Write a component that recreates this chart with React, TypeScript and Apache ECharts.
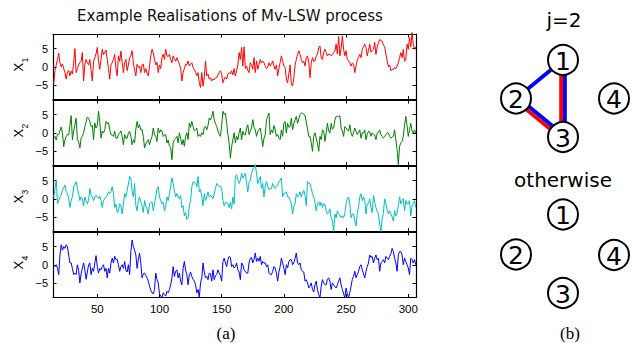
import React, { useEffect, useRef } from 'react';
import * as echarts from 'echarts';

// time index of the first sample shown
const T_START = 15;

// X1 (red)
const x1 = [
  -4.5, -1, 0.5, 2, 3.7, 1, 0, 0.8, -0.5, -1.6,
  -3.4, -1.5, -1, -2.5, -1.2, -2, 1, 5, -1.6, -0.5,
  0.5, 1.1, 1.5, 3.9, -3.9, 0.7, 2, 1.2, 0.5, 2,
  -1, -3.9, 1.5, 2.5, 3.5, 5.3, 1.5, -0.7, 2, 4.8,
  3.3, 4, 4.6, 2, -0.5, -3.4, 0.5, 1.1, 2, 3.4,
  -0.5, -2.5, 3, 1.5, 4.3, 1.2, -1.6, 1.1, 2, -1.1,
  0.5, 2.5, 3, 4.4, 1.1, -1, -2.5, 0.7, -0.2, 0.2,
  -1.6, 0.5, 0.7, -1.6, -0.5, -1.8, -2.5, 0.2, 3, 4.8,
  3.8, 2, 0.5, 1.2, -1.6, 0.5, -0.5, 2.5, 3.5, 2,
  4.8, 3, 2.8, 3.4, 2, 1.1, 3, 2.2, 1.5, 2.5,
  1.6, 0.7, -0.5, -3.9, -1.6, -0.5, 0.7, 0.5, 1.6, 0.2,
  0.7, 1.1, -0.2, -0.8, -1.5, -2.5, -1.6, -4.5, -5.7, -1.6,
  -5.3, -3, 1.6, -2.5, -2, -3.4, -3, -3.9, -3.4, -3.6,
  -3, -3, -2.2, -1.6, -1.1, -2, -4.4, -3.4, -2.8, -3.4,
  -2, -1.6, -2, -1.1, -2.2, -0.5, -2.5, -1, 0.5, 3.9,
  2, 5.3, 0.2, 5.5, -0.5, 0.2, -1, -1.6, 1.1, 0.5,
  -0.7, 2.5, -1.6, 1.6, -0.7, 0.7, 2, 1, 1.6, 1.1,
  0.2, -0.5, -0.2, 1.1, 0.2, 0.7, 1.6, 0.2, -0.7, 0.5,
  -2.5, -0.5, 1.1, 3, 1.5, 0.2, -0.2, -3.4, -4.4, -2,
  0.5, -4.8, -5.3, -3, 0.5, 2, 3.4, 4.4, 3.4, 2,
  1.1, 1.5, 0.2, 2.5, 3, 1.2, -3, 1.1, 2.5, 1.5,
  1.6, 3, 3.4, 5.3, 5.7, 2.5, 2, 4, 4.8, 3.9,
  3, 3.5, 3.4, 3, 3.4, 3.9, 4.3, 6.2, 3.5, 8.3,
  3, 5, 8.5, 4.8, 3, 4.4, 2, 1.6, 1.1, 0.2,
  1, 0.7, -1.6, 0.2, 1.8, 2.5, 3.4, 2.5, 4.8, 5.5,
  6.2, 5.3, 3, 4.5, 6.2, 4, 4.5, 4.8, 6.7, 3.4,
  5.5, 6.5, 7.5, 7.2, 7, 6, 5.5, 3.5, 1.6, 0,
  0.5, -1.1, -0.7, -0.8, -0.2, -0.5, 0.2, 1.1, 2.5, 3.9,
  2.5, 4.8, 1.5, 2, 6.2, 4.8, 8, 5.5, 9.4, 6.2,
  4.8, 5.5,
];

// X2 (green)
const x2 = [
  -1.5, -1, -2, -0.5, -0.5, 0.5, 1.6, 0, -3.8, -2,
  -1, -0.5, -0.6, 2, 4.7, -1.9, 0.5, 2.2, 4, -1.9,
  -2.5, -4.2, -1.5, -1, 0, 1.7, 3, 4.3, 4, 3.1,
  1.7, 2, -1.9, 2.7, 1.3, 2, 5.9, 3, -1.5, 0.5,
  -0.1, 0.8, 3.1, 2.5, 2.8, 0.8, -0.5, -0.6, -1, 0.4,
  -1.5, -1.5, -0.5, -0.1, 0.5, -1, -3.3, -0.5, -1.5, -1.5,
  -0.1, 0.4, -1, -3.3, -1.9, -2.8, 1, 3.1, 1.3, 2.2,
  0.8, 0.9, -1, -4.2, -3, -2.4, -1.9, -3.3, -2, -1,
  1.3, -0.5, -1, -2.4, 1.3, 0, 0.8, 0.5, -1, -0.6,
  -0.5, -2.8, -2, -3.7, -4, -7.4, -2.8, -1.9, -1.5, -1,
  -2.8, 0, -1.5, -3.3, -1.9, -3.7, -1, 0, -1.9, 2.7,
  1.5, 3.1, 1.7, 0.5, 0.8, 1.3, -1, -0.5, -1, 0,
  -0.5, 1.5, 1.7, 0.8, 2, 4, 3.5, 4.5, 5.9, 3.5,
  2.6, 1.7, 0.5, -0.5, -1, 2, 5.9, 5, 5.4, 2.6,
  -0.5, -2.8, -7, -3.8, -1.9, 0, -2.8, -1, -1.9, 0,
  1.3, -1.9, 0.4, -0.5, -0.6, 1.3, 2.2, -0.5, 0.5, 1.3,
  3.6, 1.5, 0.8, -1, 0.4, 0.8, 1.3, -1, -3.8, -1.5,
  -0.5, 3.5, 4.5, 5.4, -0.5, 0.8, 0, 2, 0.8, -1,
  -0.5, -1.5, -1.9, 0.8, -1, 2.5, 3.1, -0.1, 2.6, 1.5,
  1.7, 4, 0.8, 2.5, 3.5, 4.5, 2.6, 3.8, 5, 5.4,
  5.4, 5, 4.8, 3, 1, -1, -1, -2.8, -5.1, -1,
  0, -1.5, -3, -5.1, -1, -1.9, 0.8, 0.5, -2.4, 0,
  2.6, 0.5, -0.1, 2.6, 1, 1.3, 3.5, 4.5, 4.5, 4.5,
  4.7, 1.3, 0.5, -1, 1.7, 1.3, 0.8, 0.4, 2.2, -0.1,
  -1, 0, 1.3, 0.4, -0.5, 0.2, 0.8, -1.5, 0, -0.1,
  0.8, -1.9, -0.5, 0.4, 0.3, -1, 0, -0.5, -0.6, -1.9,
  -0.1, 0, 0.8, -0.5, -1, -1.5, -1, -0.5, 0, -0.1,
  -1, -1.5, -1.2, -1, 0.8, -2, -4.6, -8.8, -3.7, -2.8,
  -2.4, -1, 2.2, 4.5, 2, -1, 0.8, 2.6, 0.5, -0.1,
  0.8, -0.1,
];

// X3 (cyan)
const x3 = [
  0.5, 2.5, 5.2, -1.4, -0.5, 0.5, 1, 2.3, 3, 3.8,
  2, 1.4, 0, -2.4, -0.5, 0.5, 3.3, 4, 4.7, 2.8,
  1.4, -0.5, 0.5, 0, -1.9, 0.5, -0.5, -1.4, -0.5, 2.8,
  1, 0.5, -0.5, 0.5, 1, 0.5, 0, 0.7, -0.5, -2.4,
  -0.5, 0, 0.5, 1, 1.9, 1.4, 2, 3.3, 1.4, -2.4,
  -1.5, -3.8, -3.3, -1.4, -2, -4.2, -1.4, 1.4, 0.5, 2.3,
  4, 6.1, 5.7, 2, 0.5, 4.2, -1.9, -3.3, -0.5, 0.5,
  -1, -1.9, -3.8, -0.5, -2, -2.8, -4.2, -1.4, -1, -0.9,
  -3.3, -1.4, 0.5, 2.8, 3.3, 0.5, -0.5, -1.4, -1, -3.3,
  -2, 0.5, -0.5, 1.4, 3.5, 5.7, 4.2, 2.2, 0.5, 1.4,
  0.5, 0, 0.9, -2.4, -1.9, -4.7, -3.8, -5.7, -5.2, -2,
  -0.5, 3.3, 4.7, 4.5, 4.2, 3.3, 6.1, 1.9, 2.5, 0.5,
  -1.9, 1.4, -0.5, 0.5, 1.9, 0.5, 1, 0.5, 0, 1.4,
  2.8, 4.2, 3.8, 3.3, 3.5, 2.8, -0.5, -1.9, -1, -1,
  -1.5, -2.4, -1, -2.8, 0.5, -1.4, 6.1, 6.6, 5.2, 4.2,
  5, 7, 5.7, 6.3, 7, 4.2, 1.9, 4.5, 5, 7,
  8, 8.5, 9.4, 7, 4.2, 5, 6.1, 2.8, 4.2, 0.5,
  3.5, 4.7, 3.3, 2.5, 2.8, 2.8, 4.2, 3.3, 2.8, 3.3,
  3.8, 4.7, 5, 5.7, 0.5, 1.4, 1.4, 1.9, 0.5, 0.5,
  -0.5, -1.4, -4.2, -2, -1.4, 1.4, 0.5, 1, 1.9, 0.5,
  1.5, 2.3, 0.9, -1.9, 4.7, 4.2, 4.2, 2.8, 1.4, 0.5,
  -1, -3.3, -1.4, -0.8, -1.9, -1, -2.4, -1.4, -1.5, -3.3,
  -4.2, -3.8, -2.8, -5.2, -6, -9, -4.2, -5.2, -3.3, -4.2,
  -4.5, -5.2, -4.7, -5.2, -4, -1.4, 0, 0.5, -1.4, -5.2,
  -4.2, -4.2, -6.1, -7.5, -4, -2.4, 0.5, 1.4, -0.5, 0.5,
  -0.5, -4.2, -1.4, -1.4, 0, -2.4, -3.8, 0.9, -1, -2.4,
  -3.5, -4.2, -7, -9, -5.5, -3.8, 0, -1.4, -3, -4.2,
  -3.3, -4.2, -5, -6.1, -3.3, -4.7, -4, -1.9, 0.5, -1.4,
  -0.5, 0, -3.3, -0.5, -1.4, -1.4, -0.5, -4.7, -2, -1.4,
  -0.5, -2.4,
];

// X4 (blue)
const x4 = [
  0, -0.5, 0, -1, -2.7, 2.7, 5.5, 4, 5, 4.5,
  5.5, 5, 2.7, 0.5, 0.5, -1, -2.7, -2.3, -2.7, 0,
  -1.5, -5, -2.5, -1, 0.5, -1.4, -4, -2, 0, 0.5,
  -2.7, -1, -1.8, 0.5, 2.5, -0.5, -2.3, -1, -1.4, -0.5,
  0, -1.8, -1, -3.6, -1, -2.3, 0.5, 1.8, 0.5, 2.3,
  1.4, 1.5, 0, -1.8, -0.5, 0, -1, 0.9, -1.5, -2,
  0, -2.7, 3.6, 6.8, 5, 4, 2.7, -1, 1.5, 3.2,
  0.5, -3.6, -2.5, -2.3, -3, -3.6, -4.5, -5.9, -7, -7.7,
  -8, -6.8, -2.3, -4, -5, -8, -8.6, -9, -7.7, -8.2,
  -8.6, -7.3, -7.7, -6.8, -5.5, -3.6, -0.5, -3.2, -1.8, -1.4,
  -3.6, -2.3, -4.5, -5.5, -1, 0.9, -1.5, -2.7, -5.5, -2.7,
  -2, -3.2, -4, -4.5, -5.5, -7.7, -6.8, -9, -5, -3.6,
  0.5, -2, -3.6, -3.2, -4.1, -2.3, -2.5, -4.5, -1.4, -4.1,
  -3, -2.7, -1.4, -2.3, -3, -4.5, 0.9, 1.8, 0.5, -0.5,
  1.4, 2.3, 2, -0.5, 0, -0.9, -0.5, 0.5, -1.4, -2,
  -4.1, 0.5, 0, -1.4, -1.8, -2.3, -2.3, 0.5, 1.8, 2,
  0.5, 1.5, 3.2, 0.9, 1.8, 1, 2.3, 0, 0.9, 0.5,
  0.5, -0.5, 0, -2.3, -2.7, -2.7, -1.8, -0.5, -0.9, -2.3,
  -4.5, -2, -0.5, 1.8, 0.5, -1, -2.7, 0, -0.9, 0.9,
  1.4, 1.4, 0, 0.5, 1.8, 3.2, 0.5, 0, 0.5, -1.4,
  -1.8, -2, -4.5, -4.1, -5, -6.4, -5.9, -5, -6.8, -7.5,
  -5.5, -4.5, -7, -8.2, -9, -5.9, -4.1, -5, -5.5, -5.5,
  -4, -3.6, -4.5, -6.8, -5, -5.5, -6, -6.4, -5.5, -4.5,
  -3.6, -5.5, -6.8, -8, -9, -6.4, -8, -9, -7.7, -5.9,
  -4, -3.2, -1.8, -3.6, -2.7, -1.8, -0.5, 0, -1.4, -2.5,
  -3.6, -1.8, -0.5, 0.5, 2.7, 2, 2.3, 0.5, 1.8, 2.7,
  1.4, 1.8, -1.8, 0.5, 0.9, 1.4, 0.5, 2.3, 1.8, 1.4,
  2.3, 3, 4.5, 3.6, 1.8, 0.5, -1.8, 2.7, 3.6, 3.6,
  2.7, 0, 1.8, 0.9, 0, -0.9, -2.7, 1.8, 1.4, 0.5,
  1.4, 0,
];

const xTicks = [50, 100, 150, 200, 250, 300];
const yTicks = [-5, 0, 5];
const subscripts = ['1', '2', '3', '4'];
const lineColors = ['#ff0000', '#008000', '#00bfbf', '#0000ff'];

const titleText = 'Example Realisations of Mv-LSW process';
const captionA = '(a)';
const captionB = '(b)';
const headJ2 = 'j=2';
const headOther = 'otherwise';
const nodeNames = ['1', '2', '3', '4'];
// edges at j=2: [from, to, colours]
const edgesJ2: [number, number, string[]][] = [
  [0, 1, ['#0000ff']],
  [1, 2, ['#ff0000', '#0000ff']],
  [0, 2, ['#ff0000', '#0000ff']],
];

export default function App() {
  const ref = useRef<HTMLDivElement>(null);
  useEffect(() => {
    const chart = echarts.init(ref.current!, null, { renderer: 'svg' });
    const L = 53, GW = 363, GH = 65.5;
    const tops = [34, 100, 166, 232];
    const XMIN = 14.4, XMAX = 306.2;
    const all = [x1, x2, x3, x4];
    const grid: any[] = [], xAxis: any[] = [], yAxis: any[] = [], series: any[] = [];
    const axisLine = { show: true, onZero: false, lineStyle: { color: '#000', width: 1.2 } };
    const tickFont = { color: '#000', fontFamily: 'Liberation Sans', fontSize: 11 };
    all.forEach((arr, i) => {
      grid.push({ left: L, top: tops[i], width: GW, height: GH });
      ['bottom', 'top'].forEach((pos, k) => {
        xAxis.push({
          type: 'value', gridIndex: i, position: pos, min: XMIN, max: XMAX,
          axisLine, splitLine: { show: false },
          axisTick: { show: true, inside: true, length: 3.5, customValues: xTicks, lineStyle: { color: '#000', width: 1 } },
          axisLabel: { show: k === 0 && i === 3, customValues: xTicks, margin: 5, ...tickFont, fontSize: 11.5 },
        });
      });
      ['left', 'right'].forEach((pos, k) => {
        yAxis.push({
          type: 'value', gridIndex: i, position: pos, min: -9, max: 9,
          axisLine, splitLine: { show: false },
          axisTick: { show: true, inside: true, length: 3.5, customValues: yTicks, lineStyle: { color: '#000', width: 1 } },
          axisLabel: {
            show: k === 0, customValues: yTicks, margin: 5, ...tickFont,
            formatter: (v: number) => (v < 0 ? '\u2212' + Math.abs(v) : String(v)),
          },
        });
      });
      series.push({
        type: 'line', xAxisIndex: 2 * i, yAxisIndex: 2 * i,
        data: arr.map((v, k) => [T_START + k, v]),
        showSymbol: false, symbol: 'none', clip: false, silent: true,
        lineStyle: { color: lineColors[i], width: 1 }, itemStyle: { color: lineColors[i] },
      });
    });

    const graphic: any[] = [];
    graphic.push({
      type: 'text', x: 230, y: 16,
      style: { text: titleText, fontFamily: 'DejaVu Sans', fontSize: 15, fill: '#111', align: 'center', verticalAlign: 'middle' },
    });
    tops.forEach((t, i) => {
      const pc = t + GH / 2;
      graphic.push({
        type: 'text', x: 18, y: pc + 0.5, rotation: Math.PI / 2,
        style: { text: 'X', fontFamily: 'Liberation Sans', fontSize: 13, fill: '#000', align: 'center', verticalAlign: 'middle' },
      });
      graphic.push({
        type: 'text', x: 24.5, y: pc - 6.5, rotation: Math.PI / 2,
        style: { text: subscripts[i], fontFamily: 'Liberation Sans', fontSize: 8.5, fill: '#000', align: 'center', verticalAlign: 'middle' },
      });
    });
    graphic.push({
      type: 'text', x: 226, y: 333,
      style: { text: captionA, fontFamily: 'Liberation Serif', fontSize: 17, fill: '#000', align: 'center', verticalAlign: 'middle' },
    });
    graphic.push({
      type: 'text', x: 570, y: 333,
      style: { text: captionB, fontFamily: 'Liberation Serif', fontSize: 17, fill: '#000', align: 'center', verticalAlign: 'middle' },
    });

    const headFont = { fontFamily: 'DejaVu Sans', fontSize: 20, fill: '#000', align: 'center', verticalAlign: 'middle' };
    graphic.push({ type: 'text', x: 564, y: 20, style: { text: headJ2, ...headFont } });
    graphic.push({ type: 'text', x: 563, y: 180, style: { text: headOther, ...headFont } });

    const posJ2 = [[563, 60], [516, 98.5], [563, 137], [614, 98.5]];
    const posOther = [[563, 214.5], [516, 254.5], [563, 293], [614, 255]];

    edgesJ2.forEach(([a, b, cols]) => {
      const [ax, ay] = posJ2[a];
      const [bx, by] = posJ2[b];
      const len = Math.hypot(bx - ax, by - ay);
      const dx = (bx - ax) / len, dy = (by - ay) / len;
      const nx = -dy, ny = dx;
      cols.forEach((c, k) => {
        const off = cols.length === 1 ? 0 : (k === 0 ? 1.9 : -1.9);
        graphic.push({
          type: 'line', z: 10,
          shape: { x1: ax + nx * off, y1: ay + ny * off, x2: bx + nx * off, y2: by + ny * off },
          style: { stroke: c, lineWidth: 3.8 },
        });
      });
    });

    [posJ2, posOther].forEach((ps) => {
      ps.forEach(([cx, cy], k) => {
        graphic.push({
          type: 'circle', z: 20, shape: { cx, cy, r: 15 },
          style: { fill: '#fff', stroke: '#000', lineWidth: 2 },
        });
        graphic.push({
          type: 'text', z: 30, x: cx, y: cy + 1,
          style: { text: nodeNames[k], fontFamily: 'DejaVu Sans', fontSize: 25, fill: '#000', align: 'center', verticalAlign: 'middle' },
        });
      });
    });

    chart.setOption({
      animation: false,
      backgroundColor: '#fff',
      grid, xAxis, yAxis, series, graphic,
    });
    return () => chart.dispose();
  }, []);
  return <div ref={ref} style={{ position: 'fixed', left: 0, top: 0, width: 632, height: 343 }} />;
}
